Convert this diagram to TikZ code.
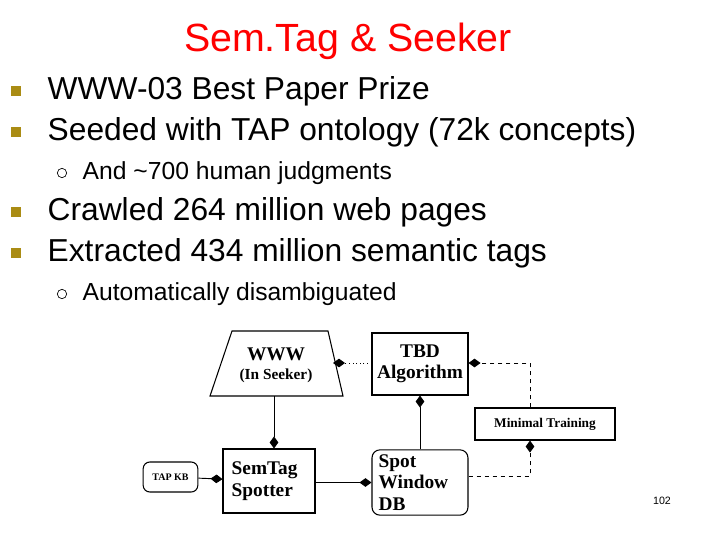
\documentclass[tikz,border=0pt]{standalone}
\usepackage{fontspec}
\setmainfont{Liberation Sans}
\newfontfamily\tms{Liberation Serif}
\usetikzlibrary{arrows.meta,shapes.geometric}
\begin{document}
\begin{tikzpicture}[x=0.75pt,y=-0.75pt,
  bul/.style={anchor=base west,font=\fontsize{23.8}{28}\selectfont},
  sub/.style={anchor=base west,font=\fontsize{18.5}{22}\selectfont},
  sq/.style={fill=bulc,minimum size=7pt,inner sep=0pt},
  bx/.style={draw,line width=0.8pt,font=\tms\bfseries\fontsize{14.5}{16}\selectfont,align=left,inner sep=0pt},
  ar/.style={line width=0.7pt,-{Diamond[length=9pt,width=6.5pt]}}]
\definecolor{bulc}{RGB}{170,140,20}
\useasboundingbox (0,0) rectangle (720,540);
\node[anchor=base,text=red,font=\fontsize{29.5}{34}\selectfont] (title) at (348,51) {Sem.Tag \& Seeker};
\node[sq] (b1) at (16,91) {}; \node[bul] (t1) at (43,99) {WWW-03 Best Paper Prize};
\node[sq] (b2) at (16,132) {}; \node[bul] (t2) at (43,140) {Seeded with TAP ontology (72k concepts)};
\node[draw,circle,minimum size=7pt,inner sep=0pt,line width=0.5pt] (c1) at (62,173) {}; \node[sub] (s1) at (78,179) {And \textasciitilde700 human judgments};
\node[sq] (b3) at (16,212) {}; \node[bul] (t3) at (43,220) {Crawled 264 million web pages};
\node[sq] (b4) at (16,253) {}; \node[bul] (t4) at (43,261) {Extracted 434 million semantic tags};
\node[draw,circle,minimum size=7pt,inner sep=0pt,line width=0.5pt] (c2) at (62,294) {}; \node[sub] (s2) at (78,300) {Automatically disambiguated};
% diagram
\draw[line width=0.8pt] (232,331) -- (328,331) -- (343,396) -- (210,396) -- cycle;
\node[font=\tms\bfseries\fontsize{14.5}{16}\selectfont] (www) at (276,354) {WWW};
\node[font=\tms\bfseries\fontsize{11.5}{13}\selectfont] (wwws) at (276,376) {(In Seeker)};
\coordinate (wb) at (274,396);
\coordinate (wr) at (333,363);
\node[bx,minimum width=72pt,minimum height=46.5pt,align=center] (tbd) at (420,364) {TBD\\Algorithm};
\node[bx,minimum width=105pt,minimum height=24pt,font=\tms\bfseries\fontsize{10}{11}\selectfont] (mt) at (545,424) {Minimal Training};
\node[bx,rounded corners=6pt,minimum width=72pt,minimum height=49pt,text width=62pt] (spot) at (420,482.5) {Spot\\Window\\DB};
\node[bx,minimum width=69pt,minimum height=48pt,text width=56pt] (sem) at (269,481) {SemTag\\Spotter};
\node[bx,rounded corners=5pt,minimum width=41pt,minimum height=22.5pt,font=\tms\bfseries\fontsize{7.5}{8}\selectfont] (tap) at (170.5,477) {TAP KB};
\draw[ar] (wb) -- (sem.north -| wb);
\draw[ar] (tap) -- (sem);
\draw[ar] (sem.east |- spot) -- (spot.west);
\draw[ar] (spot.north) -- (tbd.south);
\draw[ar,dotted] (tbd.west |- wr) -- (wr);
\draw[ar,dashed] (mt.north -| 530,0) |- (tbd.east |- wr);
\draw[ar,dashed] (spot.east |- 0,476) -| (mt.south -| 530,0);
\node[font=\fontsize{8}{9}\selectfont] (pg) at (662,501) {102};
\end{tikzpicture}
\end{document}
